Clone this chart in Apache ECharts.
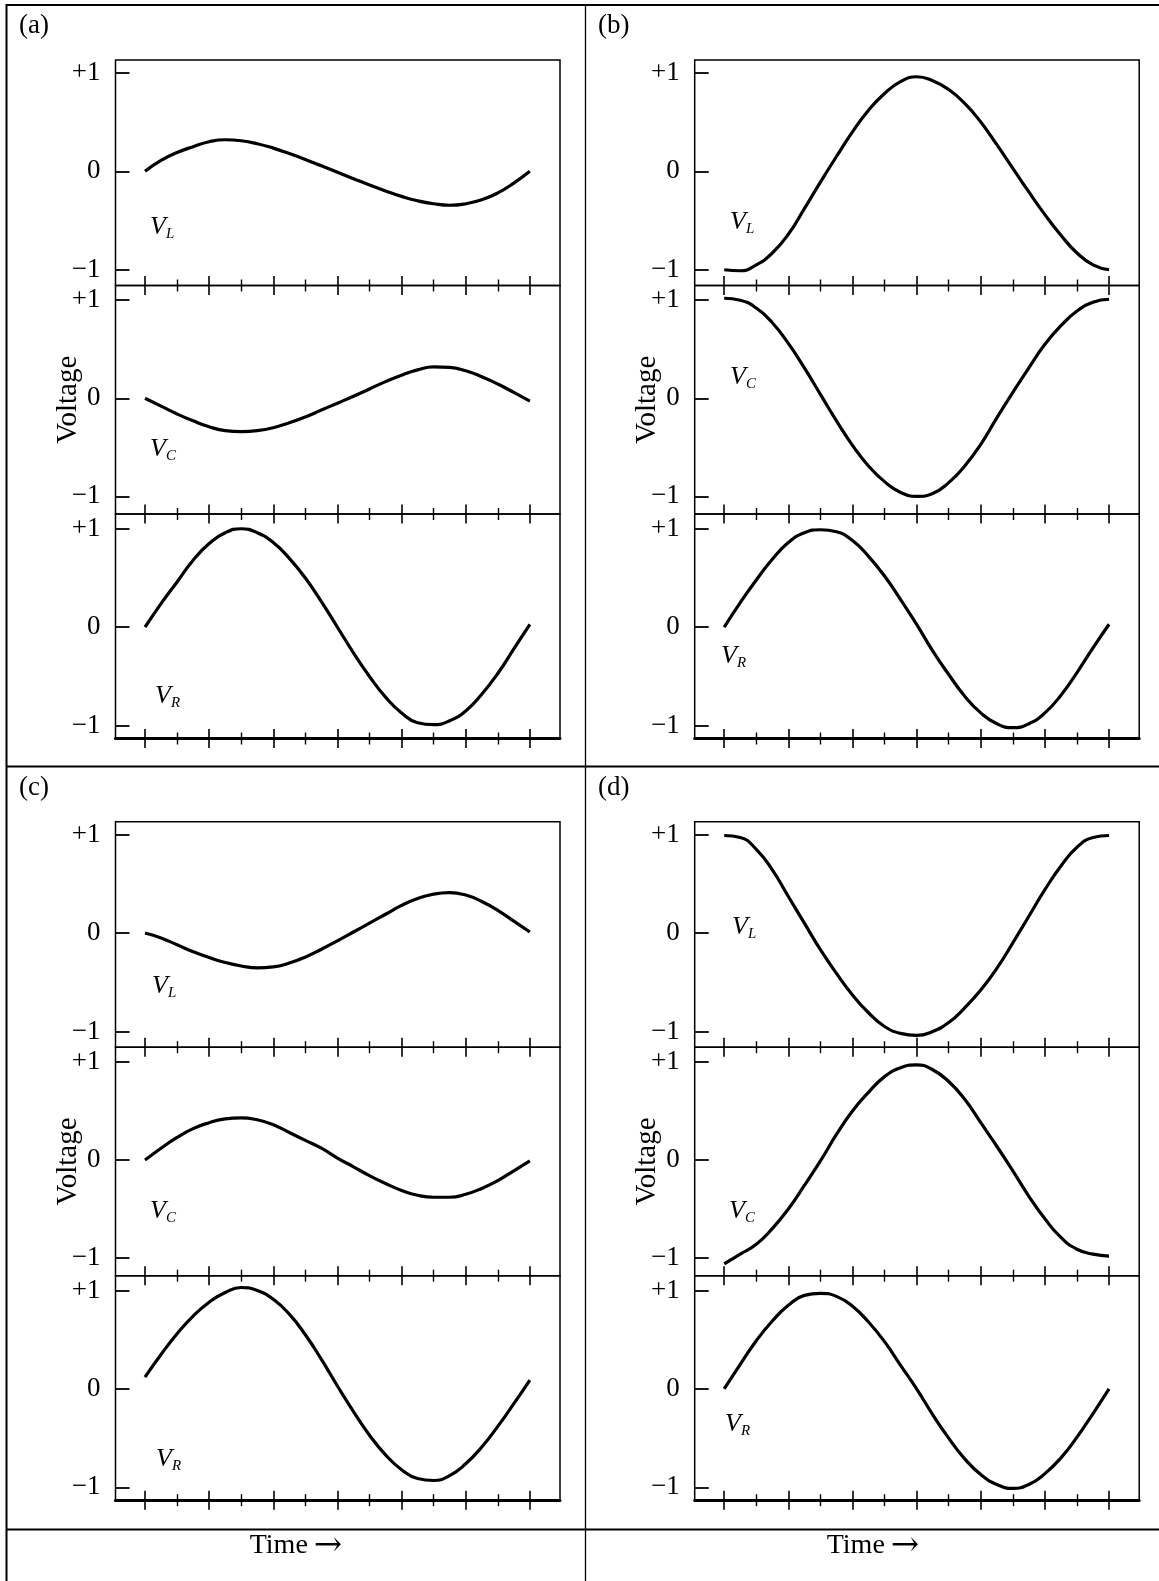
<!DOCTYPE html>
<html>
<head>
<meta charset="utf-8">
<script src="https://cdn.jsdelivr.net/npm/echarts@6/dist/echarts.min.js"></script>
<style>
html, body { margin: 0; padding: 0; background: #fff; }
#chart { width: 1159px; height: 1581px; }
</style>
</head>
<body>
<div id="chart"></div>
<script>
// time in tick units, one period over 12 ticks
var tSteps = [0, 0.5, 1, 1.5, 2, 2.5, 3, 3.5, 4, 4.5, 5, 5.5, 6, 6.5, 7, 7.5, 8, 8.5, 9, 9.5, 10, 10.5, 11, 11.5, 12];

var aVL = [0, 0.11, 0.19, 0.25, 0.30, 0.32, 0.31, 0.28, 0.235, 0.18, 0.12, 0.055, -0.01, -0.075, -0.14, -0.20, -0.255, -0.30, -0.33, -0.345, -0.33, -0.29, -0.22, -0.12, 0];
var aVC = [0, -0.08, -0.16, -0.23, -0.29, -0.33, -0.34, -0.33, -0.30, -0.25, -0.19, -0.12, -0.05, 0.02, 0.095, 0.17, 0.235, 0.29, 0.32, 0.315, 0.28, 0.22, 0.145, 0.06, -0.03];
var aVR = [0, 0.24, 0.46, 0.68, 0.85, 0.96, 1.0, 0.96, 0.86, 0.70, 0.50, 0.26, 0.0, -0.26, -0.50, -0.71, -0.87, -0.97, -0.99, -0.95, -0.85, -0.68, -0.47, -0.22, 0.03];

var bVL = [-1.0, -1.01, -0.95, -0.83, -0.64, -0.38, -0.11, 0.15, 0.40, 0.62, 0.79, 0.91, 0.96, 0.92, 0.83, 0.69, 0.50, 0.27, 0.03, -0.21, -0.44, -0.65, -0.83, -0.95, -1.0];
var bVC = [1.02, 1.0, 0.92, 0.77, 0.56, 0.31, 0.04, -0.23, -0.48, -0.69, -0.85, -0.96, -1.0, -0.97, -0.86, -0.69, -0.47, -0.20, 0.06, 0.31, 0.55, 0.74, 0.89, 0.98, 1.01];
var bVR = [0, 0.25, 0.48, 0.69, 0.86, 0.96, 0.99, 0.97, 0.88, 0.72, 0.52, 0.28, 0.03, -0.24, -0.48, -0.70, -0.87, -0.98, -1.02, -0.98, -0.87, -0.69, -0.46, -0.21, 0.03];

var cVL = [0, -0.05, -0.12, -0.19, -0.25, -0.30, -0.335, -0.355, -0.345, -0.305, -0.245, -0.165, -0.08, 0.01, 0.10, 0.19, 0.28, 0.35, 0.395, 0.41, 0.385, 0.32, 0.23, 0.12, 0.01];
var cVC = [0, 0.12, 0.23, 0.32, 0.38, 0.42, 0.43, 0.41, 0.36, 0.28, 0.20, 0.12, 0.02, -0.07, -0.16, -0.24, -0.31, -0.36, -0.38, -0.38, -0.35, -0.29, -0.21, -0.11, -0.01];
var cVR = [0.12, 0.35, 0.56, 0.74, 0.88, 0.98, 1.03, 1.0, 0.91, 0.76, 0.55, 0.30, 0.03, -0.23, -0.47, -0.67, -0.82, -0.91, -0.93, -0.88, -0.76, -0.59, -0.38, -0.15, 0.09];

var dVL = [0.99, 0.97, 0.85, 0.64, 0.37, 0.10, -0.17, -0.41, -0.63, -0.81, -0.95, -1.02, -1.04, -1.0, -0.91, -0.76, -0.58, -0.36, -0.10, 0.17, 0.44, 0.68, 0.87, 0.97, 0.99];
var dVC = [-1.06, -0.96, -0.86, -0.70, -0.50, -0.26, -0.01, 0.26, 0.50, 0.69, 0.85, 0.94, 0.97, 0.92, 0.80, 0.62, 0.38, 0.14, -0.11, -0.37, -0.60, -0.79, -0.91, -0.96, -0.98];
var dVR = [0, 0.25, 0.49, 0.69, 0.85, 0.95, 0.97, 0.94, 0.84, 0.68, 0.48, 0.24, 0, -0.26, -0.50, -0.71, -0.87, -0.97, -1.01, -0.97, -0.86, -0.70, -0.49, -0.25, 0];

var panelTags = ['(a)', '(b)', '(c)', '(d)'];
var curveNames = ['L', 'C', 'R'];
var yTickValues = [-1, 0, 1];
var yTickLabels = ['\u22121', '0', '+1'];
var majorTicks = [0, 2, 4, 6, 8, 10, 12];
var minorTicks = [1, 3, 5, 7, 9, 11];
var xLabelWord = 'Time';
var xLabelArrow = '\u2192';
var yLabelText = 'Voltage';

var panelData = [[aVL, aVC, aVR], [bVL, bVC, bVR], [cVL, cVC, cVR], [dVL, dVC, dVR]];

// layout
var FONT = 'Liberation Serif';
var colLeft = [115.5, 694.7];
var halfTop = [60, 821.7];
var boxWidth = 444.5;
var subEdge = [0, 225.5, 454, 678.5];
var yRange = [[-1.16, 1.13], [-1.18, 1.15], [-1.13, 1.15]];
var xMin = -0.92, xMax = 12.94;
var vLabelPos = [
    [[150, 212], [150, 434], [155, 681]],
    [[730, 207], [730, 362], [721, 641]],
    [[152, 971], [150, 1196], [156, 1444]],
    [[732, 912], [729, 1196], [725, 1409]]
];
var tagPos = [[19, 12], [598, 12], [19, 774], [598, 774]];

var grids = [], xAxes = [], yAxes = [], series = [], titles = [];

panelData.forEach(function (curves, pi) {
    var col = pi % 2, row = Math.floor(pi / 2);
    for (var k = 0; k < 3; k++) {
        var g = grids.length;
        grids.push({
            left: colLeft[col],
            top: halfTop[row] + subEdge[k],
            width: boxWidth,
            height: subEdge[k + 1] - subEdge[k],
            show: true,
            borderColor: '#000',
            borderWidth: 1.5,
            backgroundColor: 'transparent',
            containLabel: false,
            outerBoundsMode: 'none'
        });
        var xBase = {
            gridIndex: g, type: 'value', position: 'bottom',
            min: xMin, max: xMax,
            axisLabel: {show: false}, splitLine: {show: false},
            axisLine: {show: false, onZero: false}
        };
        var majorIdx = xAxes.length;
        // ticks crossing the line: shift axis inward and draw outward
        xAxes.push(Object.assign({}, xBase, {
            offset: -9.5,
            axisTick: {show: true, customValues: majorTicks, length: 19, lineStyle: {color: '#000', width: 1.6}}
        }));
        xAxes.push(Object.assign({}, xBase, {
            offset: -6,
            axisTick: {show: true, customValues: minorTicks, length: 12, lineStyle: {color: '#000', width: 1.4}}
        }));
        if (k == 2) {
            xAxes.push(Object.assign({}, xBase, {
                axisLine: {show: true, onZero: false, lineStyle: {color: '#000', width: 3}},
                axisTick: {show: false}
            }));
        }
        yAxes.push({
            gridIndex: g, type: 'value', position: 'left',
            min: yRange[k][0], max: yRange[k][1],
            axisLine: {show: false, onZero: false},
            splitLine: {show: false},
            axisTick: {show: true, inside: true, length: 14, customValues: yTickValues, lineStyle: {color: '#000', width: 1.8}},
            axisLabel: {
                customValues: yTickValues,
                formatter: function (v) { return yTickLabels[yTickValues.indexOf(v)]; },
                margin: 15, fontSize: 27, fontFamily: FONT, color: '#000'
            },
            name: k == 1 ? yLabelText : '',
            nameLocation: 'middle',
            nameGap: 33,
            nameRotate: 90,
            nameMoveOverlap: false,
            nameTextStyle: {fontSize: 29, fontFamily: FONT, color: '#000'}
        });
        series.push({
            type: 'line',
            xAxisIndex: majorIdx,
            yAxisIndex: g,
            data: tSteps.map(function (t, i) { return [t, curves[k][i]]; }),
            smooth: 0.5,
            symbol: 'none',
            silent: true,
            lineStyle: {color: '#000', width: 3.2}
        });
        titles.push({
            text: '{v|V}{s|' + curveNames[k] + '}',
            left: vLabelPos[pi][k][0],
            top: vLabelPos[pi][k][1],
            padding: 0,
            textStyle: {
                fontWeight: 'normal',
                rich: {
                    v: {fontSize: 26, fontStyle: 'italic', fontWeight: 'normal', fontFamily: FONT, color: '#000', lineHeight: 30},
                    s: {fontSize: 15, fontStyle: 'italic', fontWeight: 'normal', fontFamily: FONT, color: '#000', lineHeight: 15, verticalAlign: 'bottom'}
                }
            }
        });
    }
    titles.push({
        text: panelTags[pi], left: tagPos[pi][0], top: tagPos[pi][1], padding: 0,
        textStyle: {fontSize: 27, fontWeight: 'normal', fontFamily: FONT, color: '#000'}
    });
});

[296, 873].forEach(function (cx) {
    titles.push({
        text: '{t|' + xLabelWord + '}{g| }{a|' + xLabelArrow + '}',
        left: cx, top: 1529, textAlign: 'center', padding: 0,
        textStyle: {
            fontWeight: 'normal',
            rich: {
                t: {fontSize: 28, fontFamily: FONT, color: '#000', lineHeight: 34},
                g: {fontSize: 24, fontFamily: FONT, lineHeight: 34},
                a: {fontSize: 34, fontFamily: 'DejaVu Serif', color: '#000', lineHeight: 34, fontWeight: 'normal'}
            }
        }
    });
});

var myChart = echarts.init(document.getElementById('chart'), null, {renderer: 'canvas'});

option = {
    backgroundColor: '#fff',
    animation: false,
    title: titles,
    grid: grids,
    xAxis: xAxes,
    yAxis: yAxes,
    series: series,
    graphic: [
        {type: 'line', shape: {x1: 6, y1: 5, x2: 1159, y2: 5}, style: {stroke: '#000', lineWidth: 2}},
        {type: 'line', shape: {x1: 6.5, y1: 4, x2: 6.5, y2: 1581}, style: {stroke: '#000', lineWidth: 2}},
        {type: 'line', shape: {x1: 585.5, y1: 5, x2: 585.5, y2: 1581}, style: {stroke: '#000', lineWidth: 1.3}},
        {type: 'line', shape: {x1: 6, y1: 766.5, x2: 1159, y2: 766.5}, style: {stroke: '#000', lineWidth: 2.2}},
        {type: 'line', shape: {x1: 6, y1: 1529.5, x2: 1159, y2: 1529.5}, style: {stroke: '#000', lineWidth: 2.2}}
    ]
};

myChart.setOption(option);
</script>
</body>
</html>
